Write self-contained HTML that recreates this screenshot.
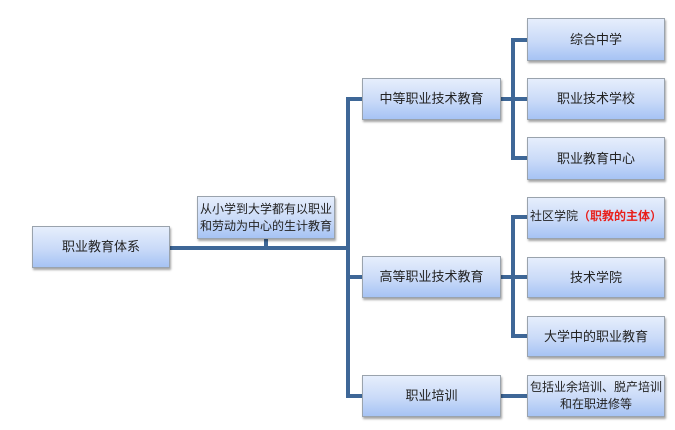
<!DOCTYPE html>
<html><head><meta charset="utf-8"><style>
body{margin:0;width:675px;height:430px;background:#fff;position:relative;overflow:hidden;font-family:"Liberation Sans","Noto Sans CJK SC",sans-serif;}
.b{position:absolute;box-sizing:border-box;border:1px solid #9aa3ad;background:linear-gradient(#e6eefc,#c9daf8 55%,#a6c3f4);box-shadow:1px 2px 2px rgba(0,0,0,0.35);display:flex;flex-direction:column;align-items:center;justify-content:center;text-align:center;font-size:13px;color:#222;line-height:16px;white-space:nowrap;}
.l{position:absolute;background:#3e6797;}
</style></head><body>
<div class="l" style="left:170px;top:246px;width:180px;height:4px"></div>
<div class="l" style="left:264px;top:238px;width:4px;height:10px"></div>
<div class="l" style="left:346px;top:97px;width:4px;height:301px"></div>
<div class="l" style="left:346px;top:97px;width:18px;height:4px"></div>
<div class="l" style="left:346px;top:275px;width:18px;height:4px"></div>
<div class="l" style="left:346px;top:394px;width:18px;height:4px"></div>
<div class="l" style="left:500px;top:97px;width:30px;height:4px"></div>
<div class="l" style="left:511px;top:38px;width:4px;height:122px"></div>
<div class="l" style="left:511px;top:38px;width:18px;height:4px"></div>
<div class="l" style="left:511px;top:156px;width:18px;height:4px"></div>
<div class="l" style="left:500px;top:275px;width:30px;height:4px"></div>
<div class="l" style="left:511px;top:215px;width:4px;height:123px"></div>
<div class="l" style="left:511px;top:215px;width:18px;height:4px"></div>
<div class="l" style="left:511px;top:334px;width:18px;height:4px"></div>
<div class="l" style="left:500px;top:394px;width:30px;height:4px"></div>

<div class="b" style="left:32px;top:226px;width:138px;height:42px">职业教育体系</div>
<div class="b" style="left:197px;top:196px;width:138px;height:43px;font-size:12px;line-height:17px"><div>从小学到大学都有以职业</div><div>和劳动为中心的生计教育</div></div>
<div class="b" style="left:362px;top:78px;width:139px;height:42px">中等职业技术教育</div>
<div class="b" style="left:362px;top:256px;width:139px;height:42px">高等职业技术教育</div>
<div class="b" style="left:362px;top:375px;width:139px;height:42px">职业培训</div>
<div class="b" style="left:527px;top:18px;width:138px;height:43px">综合中学</div>
<div class="b" style="left:527px;top:78px;width:138px;height:42px">职业技术学校</div>
<div class="b" style="left:527px;top:137px;width:138px;height:43px">职业教育中心</div>
<div class="b" style="left:527px;top:197px;width:138px;height:42px;justify-content:flex-start;padding-top:10px;font-size:12px"><div>社区学院<span style="color:#e8201c;font-weight:bold">（职教的主体）</span></div></div>
<div class="b" style="left:527px;top:257px;width:138px;height:41px">技术学院</div>
<div class="b" style="left:527px;top:316px;width:138px;height:41px">大学中的职业教育</div>
<div class="b" style="left:527px;top:375px;width:138px;height:42px;font-size:12px;line-height:17px"><div>包括业余培训、脱产培训</div><div>和在职进修等</div></div>
</body></html>
